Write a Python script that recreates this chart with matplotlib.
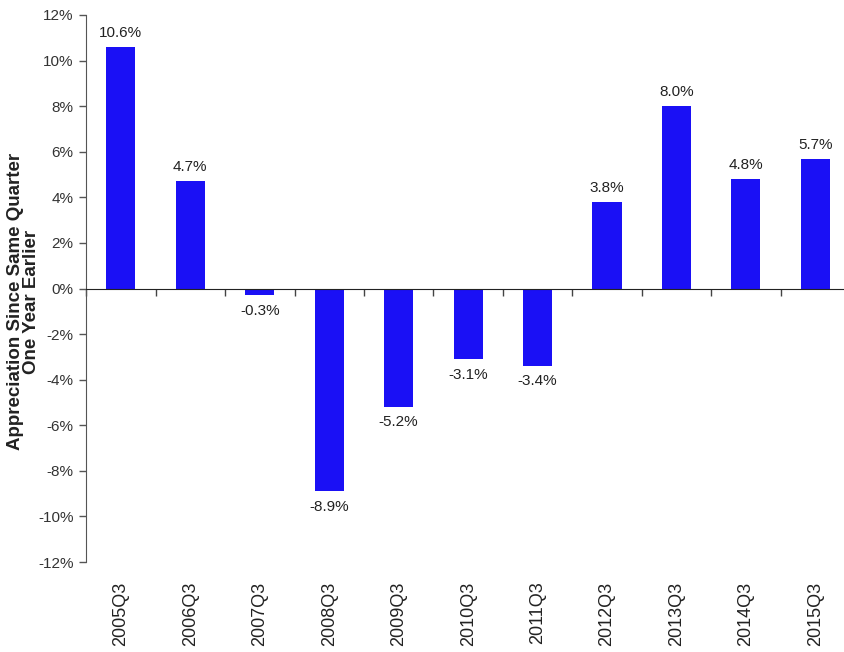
import numpy as np
import matplotlib
matplotlib.use("Agg")
from matplotlib import pyplot as plt
import matplotlib.transforms as mtransforms

# year-over-year appreciation by quarter
quarters = ["2005Q3", "2006Q3", "2007Q3", "2008Q3", "2009Q3", "2010Q3",
            "2011Q3", "2012Q3", "2013Q3", "2014Q3", "2015Q3"]
appreciation = [10.6, 4.7, -0.3, -8.9, -5.2, -3.1, -3.4, 3.8, 8.0, 4.8, 5.7]
yticks = [-12, -10, -8, -6, -4, -2, 0, 2, 4, 6, 8, 10, 12]

plt.rcParams['font.family'] = ["Liberation Sans", "DejaVu Sans"]

fig = plt.figure(figsize=(8.45, 6.52), dpi=100)
ax = fig.add_axes([0.102, 0.138, 0.904, 0.839])

x = np.arange(len(quarters))
ax.bar(x, appreciation, width=0.42, color="#1a10f5", zorder=2)

ax.set_xlim(-0.5, len(quarters) - 0.5)
ax.set_ylim(-12, 12)
ax.set_yticks(yticks)
ax.set_yticklabels(["{}%".format(v) for v in yticks], fontsize=11,
                   color="#333333")
ax.tick_params(axis='y', length=5, width=1, color="#555555", pad=4)

# zero line with ticks between categories
for s in ["top", "right"]:
    ax.spines[s].set_visible(False)
ax.spines['left'].set_color("#555555")
ax.spines['bottom'].set_position(('data', 0))
ax.spines['bottom'].set_color("#222222")
ax.set_xticks(np.arange(len(quarters) + 1) - 0.5)
ax.set_xticklabels([])
ax.tick_params(axis='x', direction='out', length=5, width=1, color="#444444")

# category labels below the plot
trans = mtransforms.blended_transform_factory(ax.transData, ax.transAxes)
for xi, q in zip(x, quarters):
    ax.text(xi, -0.036, q, rotation=90, ha='center', va='top',
            fontsize=13, color="#222222", transform=trans)

# value labels
for xi, v in zip(x, appreciation):
    if v >= 0:
        ax.annotate("{:.1f}%".format(v), (xi, v), xytext=(0, 5),
                    textcoords='offset points', ha='center', va='bottom',
                    fontsize=11, color="#222222")
    else:
        ax.annotate("{:.1f}%".format(v), (xi, v), xytext=(0, -6),
                    textcoords='offset points', ha='center', va='top',
                    fontsize=11, color="#222222")

fig.text(0.028, 0.537, "Appreciation Since Same Quarter\nOne Year Earlier",
         rotation=90, ha='center', va='center', fontsize=13.5,
         fontweight='bold', color="#222222", linespacing=0.95)

fig.savefig("out.png", dpi=100)
